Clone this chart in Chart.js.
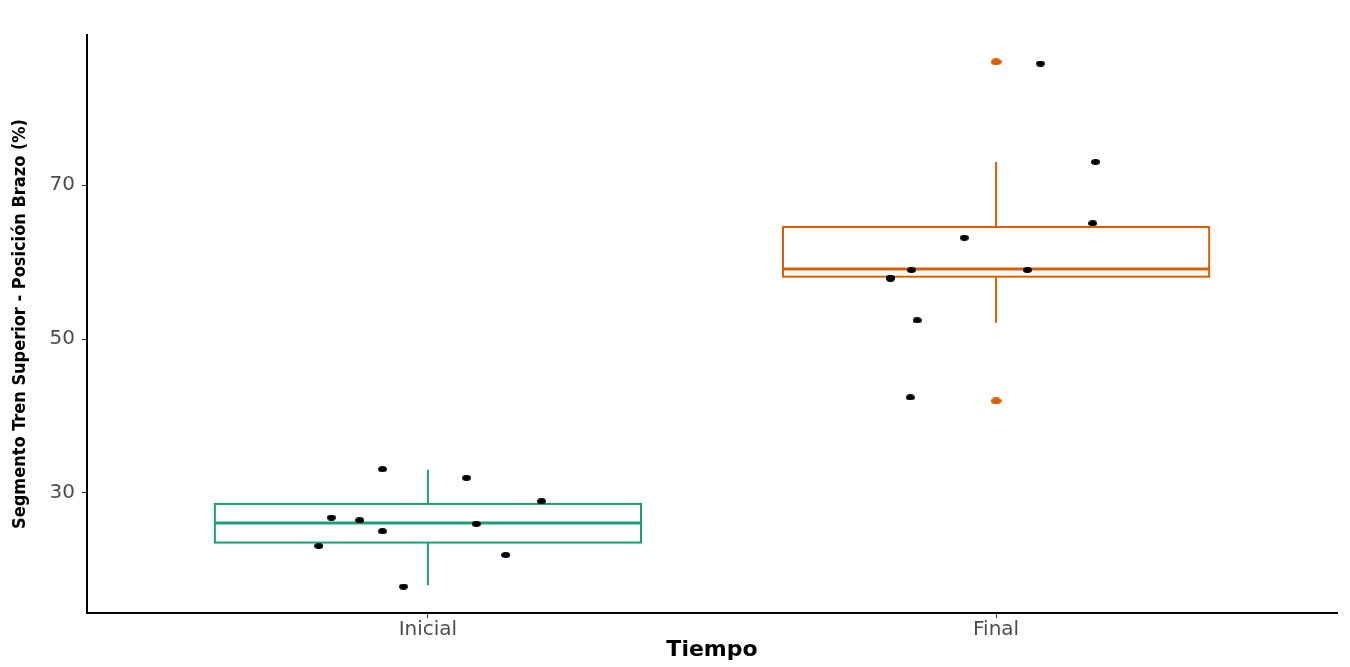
<!DOCTYPE html>
<html>
<head>
<meta charset="utf-8">
<script src="https://cdn.jsdelivr.net/npm/chart.js@4"></script>
<style>
  html, body { margin: 0; padding: 0; background: #fff; }
  #wrap { width: 1350px; height: 667px; }
</style>
</head>
<body>
<div id="wrap"><canvas id="boxChart"></canvas></div>
<script>
// categories and ticks
const categories = ['Inicial', 'Final'];
const yTicks = [30, 50, 70];
const boxColors = ['#1b9e77', '#d95f02'];

// box statistics per category
const whiskerLow = [18.0, 52.1];
const quart1 = [23.55, 58.1];
const medians = [26.1, 59.1];
const quart3 = [28.57, 64.55];
const whiskerHigh = [33.0, 73.0];
const outliersFinal = [86.0, 41.95];

// jittered observations (x = category position + jitter)
const inicialX = [0.920, 1.068, 1.200, 0.830, 0.880, 1.085, 0.920, 0.808, 1.137, 0.957];
const inicialY = [33.08, 31.95, 28.92, 26.80, 26.45, 25.97, 25.02, 23.11, 21.94, 17.83];
const finalX = [2.175, 2.170, 1.944, 1.851, 2.055, 1.814, 1.814, 1.861, 1.849, 2.078];
const finalY = [73.0, 65.03, 63.16, 58.96, 58.96, 57.96, 57.85, 52.42, 42.41, 85.79];

function ellipseStyle(w, h, color) {
    const c = document.createElement('canvas');
    c.width = w; c.height = h;
    const g = c.getContext('2d');
    g.fillStyle = color;
    g.beginPath();
    g.ellipse(w / 2, h / 2, w / 2, h / 2, 0, 0, Math.PI * 2);
    g.fill();
    return c;
}
const dot = ellipseStyle(9, 6, '#000');
const outDot = ellipseStyle(11, 7, '#d95f02');

const toPts = (xs, ys) => xs.map((x, i) => ({ x: x, y: ys[i] }));

// boxes are drawn under the points, using the chart scales
const boxPlugin = {
    id: 'boxes',
    beforeDatasetsDraw(chart) {
        const { ctx, scales: { x, y } } = chart;
        categories.forEach((cat, i) => {
            const pos = i + 1;
            const cx = x.getPixelForValue(pos);
            const l = x.getPixelForValue(pos - 0.375);
            const r = x.getPixelForValue(pos + 0.375);
            const yq1 = y.getPixelForValue(quart1[i]);
            const yq3 = y.getPixelForValue(quart3[i]);
            const ym = y.getPixelForValue(medians[i]);
            ctx.save();
            ctx.strokeStyle = boxColors[i];
            ctx.lineWidth = 2;
            ctx.beginPath();
            ctx.moveTo(cx, y.getPixelForValue(whiskerHigh[i]));
            ctx.lineTo(cx, yq3);
            ctx.moveTo(cx, yq1);
            ctx.lineTo(cx, y.getPixelForValue(whiskerLow[i]));
            ctx.stroke();
            ctx.strokeRect(l, yq3, r - l, yq1 - yq3);
            ctx.lineWidth = 3;
            ctx.beginPath();
            ctx.moveTo(l, ym);
            ctx.lineTo(r, ym);
            ctx.stroke();
            ctx.restore();
        });
    }
};

const ctx = document.getElementById('boxChart').getContext('2d');
const boxChart = new Chart(ctx, {
    type: 'scatter',
    data: {
        datasets: [
            {
                label: 'outliers',
                data: outliersFinal.map(v => ({ x: 2, y: v })),
                pointStyle: outDot,
                order: 3
            },
            {
                label: categories[0],
                data: toPts(inicialX, inicialY),
                pointStyle: dot,
                order: 2
            },
            {
                label: categories[1],
                data: toPts(finalX, finalY),
                pointStyle: dot,
                order: 1
            }
        ]
    },
    options: {
        responsive: true,
        maintainAspectRatio: false,
        animation: false,
        devicePixelRatio: 1,
        layout: { padding: { top: 35, right: 13, left: 0, bottom: 0 } },
        plugins: {
            legend: { display: false },
            tooltip: { enabled: false }
        },
        scales: {
            x: {
                type: 'linear',
                min: 0.4,
                max: 2.6,
                afterBuildTicks: (s) => { s.ticks = categories.map((c, i) => ({ value: i + 1 })); },
                afterFit: (s) => { s.height = 54; },
                ticks: {
                    callback: (v) => categories[v - 1],
                    color: '#4d4d4d',
                    font: { family: 'DejaVu Sans', size: 20 },
                    padding: 0
                },
                grid: { drawOnChartArea: false, drawTicks: true, tickLength: 5, color: '#333' },
                border: { display: true, color: '#000', width: 2 },
                title: {
                    display: true,
                    text: 'Tiempo',
                    color: '#000',
                    font: { family: 'DejaVu Sans', size: 22, weight: 'bold' },
                    padding: { top: 0, bottom: 4 }
                }
            },
            y: {
                min: 14.4,
                max: 89.5,
                afterBuildTicks: (s) => { s.ticks = yTicks.map(v => ({ value: v })); },
                afterFit: (s) => { s.width = 87; },
                ticks: {
                    color: '#4d4d4d',
                    font: { family: 'DejaVu Sans', size: 20 },
                    padding: 7
                },
                grid: { drawOnChartArea: false, drawTicks: true, tickLength: 5, color: '#333' },
                border: { display: true, color: '#000', width: 2 },
                title: {
                    display: true,
                    text: 'Segmento Tren Superior - Posición Brazo (%)',
                    color: '#000',
                    font: { family: "'DejaVu Sans Condensed', sans-serif", size: 18, weight: 'bold' },
                    padding: { top: 10, bottom: 0 }
                }
            }
        }
    },
    plugins: [boxPlugin]
});
</script>
</body>
</html>
